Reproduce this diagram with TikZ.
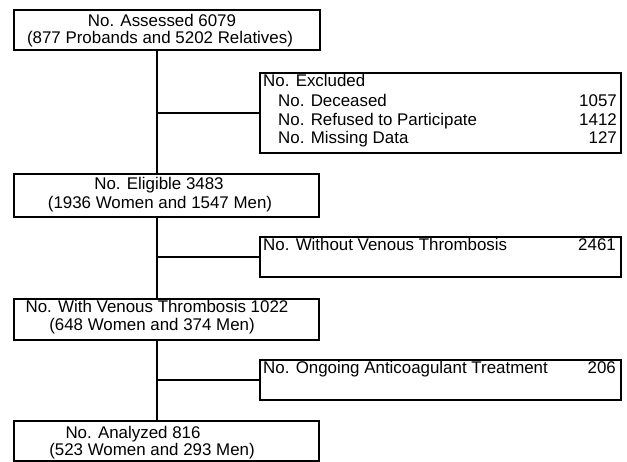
\documentclass[tikz,border=0pt]{standalone}
\usepackage{fontspec}
\setmainfont{Liberation Sans}
\begin{document}
\begin{tikzpicture}[x=1pt,y=-1pt,
  box/.style={draw=black, line width=1.9pt, rectangle, inner sep=0pt, anchor=north west},
  txt/.style={inner sep=0pt, anchor=base, font=\fontsize{16.9}{19}\selectfont},
  ltxt/.style={txt, anchor=base west},
  rtxt/.style={txt, anchor=base east},
  conn/.style={draw=black, line width=1.9pt}]
\useasboundingbox (0,0) rectangle (627,461);
% main boxes
\node[box, minimum width=306pt, minimum height=40pt] (b1) at (13,9) {};
\node[box, minimum width=305pt, minimum height=43pt] (b2) at (13,173) {};
\node[box, minimum width=305pt, minimum height=41pt] (b3) at (13,298) {};
\node[box, minimum width=305pt, minimum height=40pt] (b4) at (13,420) {};
% side boxes
\node[box, minimum width=361pt, minimum height=80pt] (ex) at (259,72) {};
\node[box, minimum width=361pt, minimum height=40pt] (wo) at (259,236) {};
\node[box, minimum width=361pt, minimum height=40pt] (ac) at (259,359) {};
% texts
\node[txt] (t11) at (162,26.7) {No. Assessed 6079};
\node[txt] (t12) at (160,43.5) {(877 Probands and 5202 Relatives)};
\node[txt] (t21) at (159,189) {No. Eligible 3483};
\node[txt] (t22) at (160,208) {(1936 Women and 1547 Men)};
\node[txt] (t31) at (157,312.3) {No. With Venous Thrombosis 1022};
\node[txt] (t32) at (152,330.7) {(648 Women and 374 Men)};
\node[txt] (t41) at (133,438.3) {No. Analyzed 816};
\node[txt] (t42) at (152,455.7) {(523 Women and 293 Men)};
\node[ltxt] (e0) at (263,86.7) {No. Excluded};
\node[ltxt] (e1) at (278,106.7) {No. Deceased};
\node[rtxt] (e1n) at (617,106.7) {1057};
\node[ltxt] (e2) at (278,125) {No. Refused to Participate};
\node[rtxt] (e2n) at (617,125) {1412};
\node[ltxt] (e3) at (278,143.3) {No. Missing Data};
\node[rtxt] (e3n) at (617,143.3) {127};
\node[ltxt] (w1) at (263,250) {No. Without Venous Thrombosis};
\node[rtxt] (w1n) at (616,250) {2461};
\node[ltxt] (a1) at (263,373.3) {No. Ongoing Anticoagulant Treatment};
\node[rtxt] (a1n) at (616,373.3) {206};
% connectors
\coordinate (s1) at (157,49);
\coordinate (s2) at (157,216);
\coordinate (s3) at (157,339);
\draw[conn] (s1) -- (s1 |- b2.north);
\draw[conn] (s1 |- ex.west) -- (ex.west);
\draw[conn] (s2) -- (s2 |- b3.north);
\draw[conn] (s2 |- wo.west) -- (wo.west);
\draw[conn] (s3) -- (s3 |- b4.north);
\draw[conn] (s3 |- ac.west) -- (ac.west);
\end{tikzpicture}
\end{document}
